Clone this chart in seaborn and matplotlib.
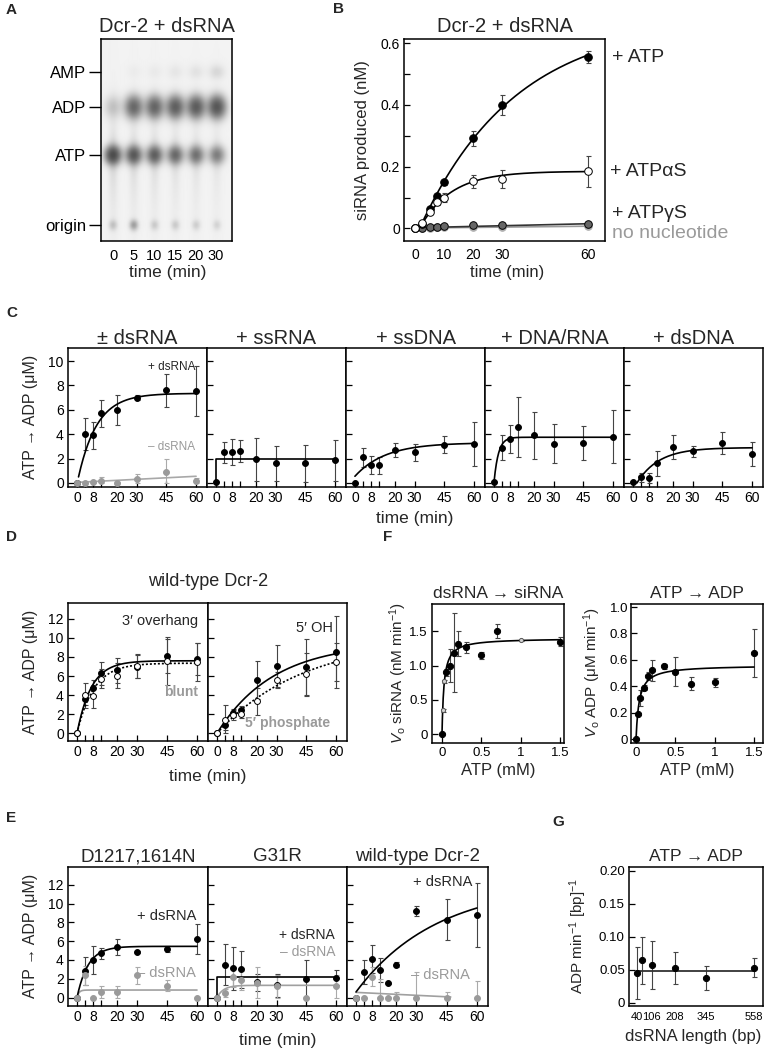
import numpy as np
import matplotlib
matplotlib.use("Agg")
import matplotlib.pyplot as plt
import seaborn as sns

W, H = 765, 1050

# ---------------- data ----------------
# A: TLC gel, relative spot densities per lane
GEL_LANES = ["0", "5", "10", "15", "20", "30"]
GEL_BANDS = ["AMP", "ADP", "ATP", "origin"]
GEL_AMP = [0.0, 0.03, 0.04, 0.06, 0.08, 0.14]
GEL_ADP = [0.25, 1.1, 1.15, 1.25, 1.3, 1.4]
GEL_ATP = [1.5, 1.25, 1.15, 1.0, 0.9, 0.75]
GEL_ORIGIN = [0.25, 0.5, 0.2, 0.2, 0.18, 0.15]

# B: siRNA produced (nM)
B_TIME = [0, 2.5, 5, 7.5, 10, 20, 30, 60]
B_ATP = [0, 0.015, 0.063, 0.105, 0.15, 0.292, 0.40, 0.555]
B_ATP_ERR = [0, 0, 0.005, 0.008, 0.008, 0.025, 0.033, 0.02]
B_ATPAS = [0, 0.018, 0.052, 0.085, 0.10, 0.152, 0.16, 0.185]
B_ATPAS_ERR = [0, 0, 0.005, 0.01, 0.015, 0.02, 0.03, 0.05]
B_ATPGS = [0, 0.002, 0.004, 0.006, 0.008, 0.010, 0.012, 0.015]
B_ATPGS_ERR = [0, 0, 0.003, 0.003, 0.004, 0.004, 0.004, 0.004]
B_NONE = [0, 0.001, 0.002, 0.003, 0.004, 0.005, 0.006, 0.007]

# C: ATP -> ADP (uM) with different nucleic acids
C_TITLES = ["± dsRNA", "+ ssRNA", "+ ssDNA", "+ DNA/RNA", "+ dsDNA"]
C_TIME = [0, 4, 8, 12, 20, 30, 45, 60]
C_DSRNA = [0.0, 4.0, 3.9, 5.7, 6.0, 7.0, 7.6, 7.55]
C_DSRNA_ERR = [0, 1.3, 1.1, 1.1, 1.25, 0.2, 1.33, 2.05]
C_NORNA = [0.0, 0.0, 0.05, 0.2, 0.0, 0.3, 0.9, 0.2]
C_NORNA_ERR = [0, 0, 0.1, 0.3, 0.1, 0.4, 1.1, 0.2]
C_SSRNA = [0.05, 2.5, 2.55, 2.6, 1.95, 1.6, 1.6, 1.85]
C_SSRNA_ERR = [0, 0.85, 1.05, 0.9, 1.75, 1.4, 1.5, 1.7]
C_SSDNA = [0.0, 2.1, 1.5, 1.45, 2.7, 2.5, 3.15, 3.2]
C_SSDNA_ERR = [0, 0.8, 0.75, 0.7, 0.55, 0.7, 0.7, 1.8]
C_HYBRID = [0.05, 2.9, 3.6, 4.6, 3.9, 3.2, 3.3, 3.8]
C_HYBRID_ERR = [0, 1.0, 1.15, 2.45, 1.9, 1.6, 1.4, 2.2]
C_DSDNA = [0.05, 0.45, 0.4, 1.6, 2.95, 2.6, 3.25, 2.4]
C_DSDNA_ERR = [0, 0.4, 0.4, 1.0, 1.0, 0.45, 0.9, 1.0]

# D: dsRNA ends
D_TIME = [0, 4, 8, 12, 20, 30, 45, 60]
D_OVERHANG = [0, 3.6, 4.8, 6.3, 6.6, 7.0, 8.1, 7.8]
D_OVERHANG_ERR = [0, 0.6, 0.8, 1.2, 1.3, 1.2, 1.8, 1.7]
D_BLUNT = [0, 4.0, 3.9, 5.7, 6.05, 7.05, 7.55, 7.5]
D_BLUNT_ERR = [0, 1.3, 1.2, 1.0, 1.3, 1.3, 2.5, 2.0]
D_OH = [0, 0.85, 2.1, 2.4, 5.6, 7.1, 6.9, 8.5]
D_OH_ERR = [0, 0.5, 0.4, 0.5, 2.0, 2.2, 3.0, 3.8]
D_PHOS = [0, 1.4, 1.9, 2.0, 3.35, 5.6, 6.2, 7.5]
D_PHOS_ERR = [0, 1.55, 0.5, 0.4, 1.4, 0.8, 2.2, 2.0]

# E: mutants
E_TITLES = ["D1217,1614N", "G31R", "wild-type Dcr-2"]
E_TIME = [0, 4, 8, 12, 20, 30, 45, 60]
E_D_PLUS = [0, 2.8, 4.0, 4.7, 5.4, 4.85, 5.2, 6.2]
E_D_PLUS_ERR = [0, 1.5, 1.45, 0.6, 0.85, 0.15, 0.3, 1.6]
E_D_MINUS = [0, 2.35, 0, 0.6, 0.6, 2.35, 1.25, 0]
E_D_MINUS_ERR = [0, 1.05, 0, 0.6, 0.6, 0.9, 0.6, 0]
E_G_PLUS = [0, 3.5, 3.1, 3.0, 1.65, 1.3, 2.0, 2.1]
E_G_PLUS_ERR = [0, 2.2, 2.3, 2.0, 0.9, 1.2, 2.0, 0.8]
E_G_MINUS = [0, 0.5, 2.2, 1.85, 1.55, 1.2, 0, 1.2]
E_G_MINUS_ERR = [0, 0.4, 1.1, 1.0, 1.7, 1.2, 0, 1.2]
E_WT_TIME = [0, 4, 8, 12, 16, 20, 30, 45, 60]
E_WT_PLUS = [0, 2.7, 4.1, 2.95, 1.5, 3.5, 9.2, 8.3, 8.8]
E_WT_PLUS_ERR = [0, 1.3, 1.5, 1.3, 0.1, 0.3, 0.55, 2.2, 3.4]
E_WT_MINUS = [0, 0, 2.2, 0, 0, 0, 0, 0, 0]
E_WT_MINUS_ERR = [0, 0, 1.0, 2.0, 0.1, 0.6, 2.7, 0.6, 1.8]

# F: ATP titration
F_SI_ATP = [0, 0.0125, 0.025, 0.05, 0.1, 0.15, 0.2, 0.3, 0.5, 0.7, 1.0, 1.5]
F_SI_V = [0, 0.35, 0.77, 0.9, 1.0, 1.19, 1.32, 1.27, 1.15, 1.5, 1.37, 1.35]
F_SI_ERR = [0, 0.02, 0.02, 0.05, 0.24, 0.57, 0.18, 0.08, 0.05, 0.1, 0.01, 0.06]
F_SI_FAINT = [False, True, True, False, False, False, False, False, False, False, True, False]
F_ADP_ATP = [0, 0.025, 0.05, 0.1, 0.15, 0.2, 0.35, 0.5, 0.7, 1.0, 1.5]
F_ADP_V = [0, 0.19, 0.31, 0.39, 0.48, 0.52, 0.55, 0.51, 0.42, 0.43, 0.65]
F_ADP_ERR = [0, 0.01, 0.06, 0.02, 0.03, 0.08, 0.02, 0.11, 0.05, 0.035, 0.18]

# G: dsRNA length
G_LEN = [40, 62, 106, 208, 345, 558]
G_RATE = [0.045, 0.064, 0.057, 0.053, 0.037, 0.053]
G_ERR = [0.039, 0.035, 0.037, 0.024, 0.018, 0.014]
G_MEAN = 0.048


def rise(t, amp, k, y0=0.0, lag=0.0):
    return y0 + amp * (1 - np.exp(-k * np.clip(t - lag, 0, None)))


def mm(s, vmax, km):
    return vmax * s / (km + s)


# ---------------- style ----------------
sns.set_style("ticks")
plt.rcParams["font.family"] = ["Liberation Sans", "DejaVu Sans"]
plt.rcParams["mathtext.fontset"] = "custom"
plt.rcParams["mathtext.rm"] = "Liberation Sans"
plt.rcParams["mathtext.it"] = "Liberation Sans:italic"
plt.rcParams["mathtext.bf"] = "Liberation Sans:bold"

GRAY = "#9a9a9a"
EBAR = "#444444"

fig = plt.figure(figsize=(W / 100, H / 100), dpi=100)


def axes_px(x0, y0, x1, y1):
    return fig.add_axes([x0 / W, 1 - y1 / H, (x1 - x0) / W, (y1 - y0) / H])


def ftext(x, y, s, **kw):
    kw.setdefault("ha", "center")
    kw.setdefault("va", "center")
    fig.text(x / W, 1 - y / H, s, **kw)


def frame(ax, fs=10):
    for sp in ax.spines.values():
        sp.set_visible(True)
        sp.set_linewidth(1.1)
        sp.set_color("black")
    ax.tick_params(direction="in", length=4, width=0.9, labelsize=fs, pad=3, colors="black")
    ax.set_xlabel("")
    ax.set_ylabel("")


def dots(ax, x, y, err=None, fc="black", ec="black", s=18, ecol=EBAR):
    x = np.asarray(x, float)
    y = np.asarray(y, float)
    if err is not None:
        err = np.asarray(err, float)
        low = np.minimum(err, np.clip(y, 0, None))
        ax.errorbar(x, y, yerr=[low, err], fmt="none", ecolor=ecol, elinewidth=0.8,
                    capsize=1.8, capthick=0.8, zorder=2)
    sns.scatterplot(x=x, y=y, ax=ax, color=fc, edgecolor=ec, s=s, linewidth=0.7,
                    zorder=3, legend=False)


def curve(ax, x, y, color="black", lw=1.2, ls="-"):
    sns.lineplot(x=x, y=y, ax=ax, color=color, lw=lw, linestyle=ls,
                 estimator=None, sort=False, zorder=2.5)


TIME_TICKS = [0, 4, 8, 12, 20, 30, 45, 60]
TIME_LABELS = ["0", "", "8", "", "20", "30", "45", "60"]
tgrid = np.linspace(0, 60, 300)


def time_axis(ax, ylim, yticks, show_y):
    frame(ax, 10)
    ax.set_xlim(-4.5, 65.5)
    ax.set_ylim(*ylim)
    ax.set_xticks(TIME_TICKS)
    ax.set_xticklabels(TIME_LABELS)
    ax.set_yticks(yticks)
    ax.set_yticklabels([str(v) for v in yticks] if show_y else [])


# ---------------- A: gel ----------------
axA = axes_px(101, 39, 232, 241)
gw, gh = 131, 202
yy, xx = np.mgrid[0:gh, 0:gw] + 0.5
band_rows = [33, 68, 116, 186]
dens = np.zeros((gh, gw))
for i in range(len(GEL_LANES)):
    lx = 12 + 20.6 * i
    gx = np.exp(-((xx - lx) ** 2) / (2 * 5.3 ** 2))
    dens += GEL_AMP[i] * gx * np.exp(-((yy - band_rows[0]) ** 2) / (2 * 5 ** 2))
    dens += GEL_ADP[i] * np.exp(-((xx - lx) ** 2) / (2 * 5.8 ** 2)) * np.exp(-((yy - band_rows[1]) ** 2) / (2 * 7.5 ** 2))
    dens += GEL_ATP[i] * gx * np.exp(-((yy - band_rows[2]) ** 2) / (2 * 6.0 ** 2))
    dens += GEL_ORIGIN[i] * np.exp(-((xx - lx) ** 2) / (2 * 2.8 ** 2)) * np.exp(-((yy - band_rows[3]) ** 2) / (2 * 3.5 ** 2))
    smear = np.where(yy > band_rows[2], np.exp(-(yy - band_rows[2]) / 40), np.exp(-(band_rows[2] - yy) / 25))
    dens += 0.12 * GEL_ATP[i] * smear * np.exp(-((xx - lx) ** 2) / (2 * 3.2 ** 2))
img = 0.05 + 0.8 * (1 - np.exp(-dens))
axA.imshow(img, cmap="gray_r", vmin=0, vmax=1, extent=(0, gw, gh, 0), aspect="auto",
           interpolation="bilinear")
frame(axA, 10)
axA.set_xticks([12 + 20.6 * i for i in range(len(GEL_LANES))])
axA.set_xticklabels(GEL_LANES, fontsize=10.5)
axA.tick_params(axis="x", length=0, pad=6)
axA.set_yticks(band_rows)
axA.set_yticklabels(GEL_BANDS, fontsize=12)
axA.tick_params(axis="y", direction="out", length=9, width=1.0, pad=1.5)
axA.set_title("Dcr-2 + dsRNA", fontsize=14.5, pad=5)
ftext(168, 273, "time (min)", fontsize=12.5)

# ---------------- B ----------------
axB = axes_px(404, 39, 605, 241)
curve(axB, tgrid, rise(tgrid, 0.68, 0.03, lag=1.5))
curve(axB, tgrid, rise(tgrid, 0.185, 0.092, lag=1.5))
curve(axB, [0, 60], [0.001, 0.007], color=GRAY)
curve(axB, [0, 60], [0.002, 0.015], color="#333333")
dots(axB, B_TIME, B_NONE, fc="#b0b0b0", ec="#b0b0b0", s=30)
dots(axB, B_TIME, B_ATPGS, B_ATPGS_ERR, fc="#666666", ec="black", s=30)
dots(axB, B_TIME, B_ATP, B_ATP_ERR, s=30)
dots(axB, B_TIME, B_ATPAS, B_ATPAS_ERR, fc="white", s=30)
frame(axB, 10)
axB.set_xlim(-3.9, 65.8)
axB.set_ylim(-0.041, 0.614)
axB.set_xticks([0, 10, 20, 30, 60])
axB.set_yticks([0, 0.1, 0.2, 0.3, 0.4, 0.5, 0.6])
axB.set_yticklabels(["0", "", "0.2", "", "0.4", "", "0.6"])
axB.tick_params(axis="x", length=0, pad=5)
axB.set_title("Dcr-2 + dsRNA", fontsize=14.5, pad=5)
ftext(507, 273, "time (min)", fontsize=12)
ftext(363, 140, "siRNA produced (nM)", fontsize=12, rotation=90)
ftext(612, 57, "+ ATP", fontsize=14, ha="left")
ftext(610, 171, "+ ATPαS", fontsize=14, ha="left")
ftext(612, 213, "+ ATPγS", fontsize=14, ha="left")
ftext(612, 233, "no nucleotide", fontsize=14, ha="left", color=GRAY)

# ---------------- C ----------------
c_left = [68, 207, 346, 485, 624]
for i, title in enumerate(C_TITLES):
    ax = axes_px(c_left[i], 348, c_left[i] + 139, 487)
    if i == 0:
        tt = np.linspace(0.8, 60, 200)
        curve(ax, tt, rise(tt, 6.85, 0.105, y0=0.5, lag=0.8))
        curve(ax, [0, 60], [0.05, 0.55], color="#a8a8a8")
        dots(ax, C_TIME, C_DSRNA, C_DSRNA_ERR)
        dots(ax, C_TIME, C_NORNA, C_NORNA_ERR, fc=GRAY, ec=GRAY, ecol="#aaaaaa")
    elif i == 1:
        curve(ax, [0, 0, 60], [0, 2.0, 2.0])
        dots(ax, C_TIME, C_SSRNA, C_SSRNA_ERR)
    elif i == 2:
        curve(ax, tgrid, rise(tgrid, 2.75, 0.065, y0=0.55))
        dots(ax, C_TIME, C_SSDNA, C_SSDNA_ERR)
    elif i == 3:
        curve(ax, tgrid, rise(tgrid, 3.75, 0.45))
        dots(ax, C_TIME, C_HYBRID, C_HYBRID_ERR)
    else:
        tt = np.linspace(2, 60, 200)
        curve(ax, tt, rise(tt, 2.9, 0.09, lag=2))
        dots(ax, C_TIME, C_DSDNA, C_DSDNA_ERR)
    time_axis(ax, (-0.33, 11.07), [0, 2, 4, 6, 8, 10], i == 0)
    ax.set_title(title, fontsize=14.5, pad=3)
ftext(195, 367, "+ dsRNA", fontsize=8.5, ha="right")
ftext(195, 447, "– dsRNA", fontsize=8.5, ha="right", color=GRAY)
ftext(30, 417, "ATP → ADP (μM)", fontsize=11.5, rotation=90)
ftext(415, 518, "time (min)", fontsize=12.5)

# ---------------- D ----------------
axD1 = axes_px(68, 603, 208, 741)
curve(axD1, tgrid, rise(tgrid, 7.6, 0.14))
curve(axD1, tgrid, rise(tgrid, 7.35, 0.12), ls=(0, (1.2, 1.2)))
dots(axD1, D_TIME, D_OVERHANG, D_OVERHANG_ERR)
dots(axD1, D_TIME, D_BLUNT, D_BLUNT_ERR, fc="white")
time_axis(axD1, (-0.8, 13.65), [0, 2, 4, 6, 8, 10, 12], True)

axD2 = axes_px(208, 603, 347, 741)
curve(axD2, tgrid, rise(tgrid, 9.5, 0.035))
curve(axD2, tgrid, rise(tgrid, 10.0, 0.023), ls=(0, (1.2, 1.2)))
dots(axD2, D_TIME, D_OH, D_OH_ERR)
dots(axD2, D_TIME, D_PHOS, D_PHOS_ERR, fc="white")
time_axis(axD2, (-0.8, 13.65), [0, 2, 4, 6, 8, 10, 12], False)

ftext(208, 582, "wild-type Dcr-2", fontsize=13)
ftext(198, 621, "3′ overhang", fontsize=10.5, ha="right")
ftext(198, 692, "blunt", fontsize=10, ha="right", color=GRAY, fontweight="bold")
ftext(333, 628, "5′ OH", fontsize=10.5, ha="right")
ftext(330, 723, "5′ phosphate", fontsize=10, ha="right", color=GRAY, fontweight="bold")
ftext(30, 672, "ATP → ADP (μM)", fontsize=11.5, rotation=90)
ftext(208, 777, "time (min)", fontsize=12.5)

# ---------------- E ----------------
e_box = [(68, 208), (208, 347), (347, 488)]
for i, title in enumerate(E_TITLES):
    ax = axes_px(e_box[i][0], 867, e_box[i][1], 1006)
    if i == 0:
        curve(ax, tgrid, rise(tgrid, 0.8, 1.0), color="#a0a0a0")
        curve(ax, tgrid, rise(tgrid, 5.45, 0.18))
        dots(ax, E_TIME, E_D_PLUS, E_D_PLUS_ERR)
        dots(ax, E_TIME, E_D_MINUS, E_D_MINUS_ERR, fc=GRAY, ec=GRAY, ecol="#aaaaaa")
    elif i == 1:
        curve(ax, tgrid, rise(tgrid, 1.3, 0.3), color="#a0a0a0")
        curve(ax, [0, 0, 60], [0, 2.2, 2.2])
        dots(ax, E_TIME, E_G_PLUS, E_G_PLUS_ERR)
        dots(ax, E_TIME, E_G_MINUS, E_G_MINUS_ERR, fc=GRAY, ec=GRAY, ecol="#aaaaaa")
    else:
        curve(ax, [0, 47], [0.55, 0.06], color="#a0a0a0")
        curve(ax, tgrid, rise(tgrid, 11.5, 0.025, y0=0.6))
        dots(ax, E_WT_TIME, E_WT_PLUS, E_WT_PLUS_ERR)
        dots(ax, E_WT_TIME, E_WT_MINUS, E_WT_MINUS_ERR, fc=GRAY, ec=GRAY, ecol="#aaaaaa")
    time_axis(ax, (-0.9, 13.9), [0, 2, 4, 6, 8, 10, 12], i == 0)
    ax.set_title(title, fontsize=13.5, pad=4)
ftext(196, 916, "+ dsRNA", fontsize=10.5, ha="right")
ftext(196, 973, "– dsRNA", fontsize=10.5, ha="right", color=GRAY)
ftext(335, 935, "+ dsRNA", fontsize=10, ha="right")
ftext(335, 952, "– dsRNA", fontsize=10, ha="right", color=GRAY)
ftext(472, 882, "+ dsRNA", fontsize=10.5, ha="right")
ftext(470, 975, "– dsRNA", fontsize=10.5, ha="right", color=GRAY)
ftext(30, 936, "ATP → ADP (μM)", fontsize=11.5, rotation=90)
ftext(278, 1040, "time (min)", fontsize=12.5)

# ---------------- F ----------------
sgrid = np.linspace(0, 1.5, 300)
axF1 = axes_px(432, 604, 564, 743)
curve(axF1, sgrid, mm(sgrid, 1.40, 0.025))
faint = np.array(F_SI_FAINT)
fx, fv, fe = np.array(F_SI_ATP), np.array(F_SI_V), np.array(F_SI_ERR)
dots(axF1, fx[~faint], fv[~faint], fe[~faint], s=20)
dots(axF1, fx[faint], fv[faint], fe[faint], fc="#d0d0d0", ec="#555555", s=9)
frame(axF1, 9.5)
axF1.set_xlim(-0.127, 1.55)
axF1.set_ylim(-0.127, 1.897)
axF1.set_xticks([0, 0.5, 1, 1.5])
axF1.set_xticklabels(["0", "0.5", "1", "1.5"])
axF1.set_yticks([0, 0.5, 1.0, 1.5])
axF1.set_yticklabels(["0", "0.5", "1.0", "1.5"])
axF1.set_title("dsRNA → siRNA", fontsize=12.5, pad=4)

axF2 = axes_px(631, 604, 763, 743)
curve(axF2, sgrid, mm(sgrid, 0.56, 0.04))
dots(axF2, F_ADP_ATP, F_ADP_V, F_ADP_ERR, s=20)
frame(axF2, 9.5)
axF2.set_xlim(-0.064, 1.614)
axF2.set_ylim(-0.03, 1.023)
axF2.set_xticks([0, 0.5, 1, 1.5])
axF2.set_xticklabels(["0", "0.5", "1", "1.5"])
axF2.set_yticks([0, 0.2, 0.4, 0.6, 0.8, 1.0])
axF2.set_yticklabels(["0", "0.2", "0.4", "0.6", "0.8", "1.0"])
axF2.tick_params(axis="y", pad=2)
axF2.set_title("ATP → ADP", fontsize=12.5, pad=4)
ftext(498, 771, "ATP (mM)", fontsize=12)
ftext(697, 771, "ATP (mM)", fontsize=12)
ftext(398, 673, r"$V_\mathrm{o}$ siRNA (nM min$^{-1}$)", fontsize=11, rotation=90)
ftext(592, 673, r"$V_\mathrm{o}$ ADP (μM min$^{-1}$)", fontsize=11, rotation=90)

# ---------------- G ----------------
axG = axes_px(629, 867, 763, 1006)
curve(axG, [G_LEN[0], G_LEN[-1]], [G_MEAN, G_MEAN], color="#333333", lw=1.3)
dots(axG, G_LEN, G_RATE, G_ERR, s=20)
frame(axG, 9.5)
axG.set_xlim(6, 597.6)
axG.set_ylim(-0.005, 0.2056)
axG.set_xticks([40, 106, 208, 345, 558])
axG.set_xticklabels(["40", "106", "208", "345", "558"], fontsize=8)
axG.tick_params(axis="x", length=0, pad=4)
axG.set_yticks([0, 0.05, 0.10, 0.15, 0.20])
axG.set_yticklabels(["0", "0.05", "0.10", "0.15", "0.20"])
axG.set_title("ATP → ADP", fontsize=12.5, pad=4)
ftext(693, 1036, "dsRNA length (bp)", fontsize=12)
ftext(578, 936, r"ADP min$^{-1}$ [bp]$^{-1}$", fontsize=11, rotation=90)

# ---------------- panel letters ----------------
for lab, x, y in [("A", 6, 10), ("B", 333, 9), ("C", 6, 313), ("D", 6, 537),
                  ("F", 383, 537), ("E", 6, 818), ("G", 552, 822)]:
    ftext(x, y, lab, fontsize=11, fontweight="bold", ha="left")

fig.savefig("out.png", dpi=100)
